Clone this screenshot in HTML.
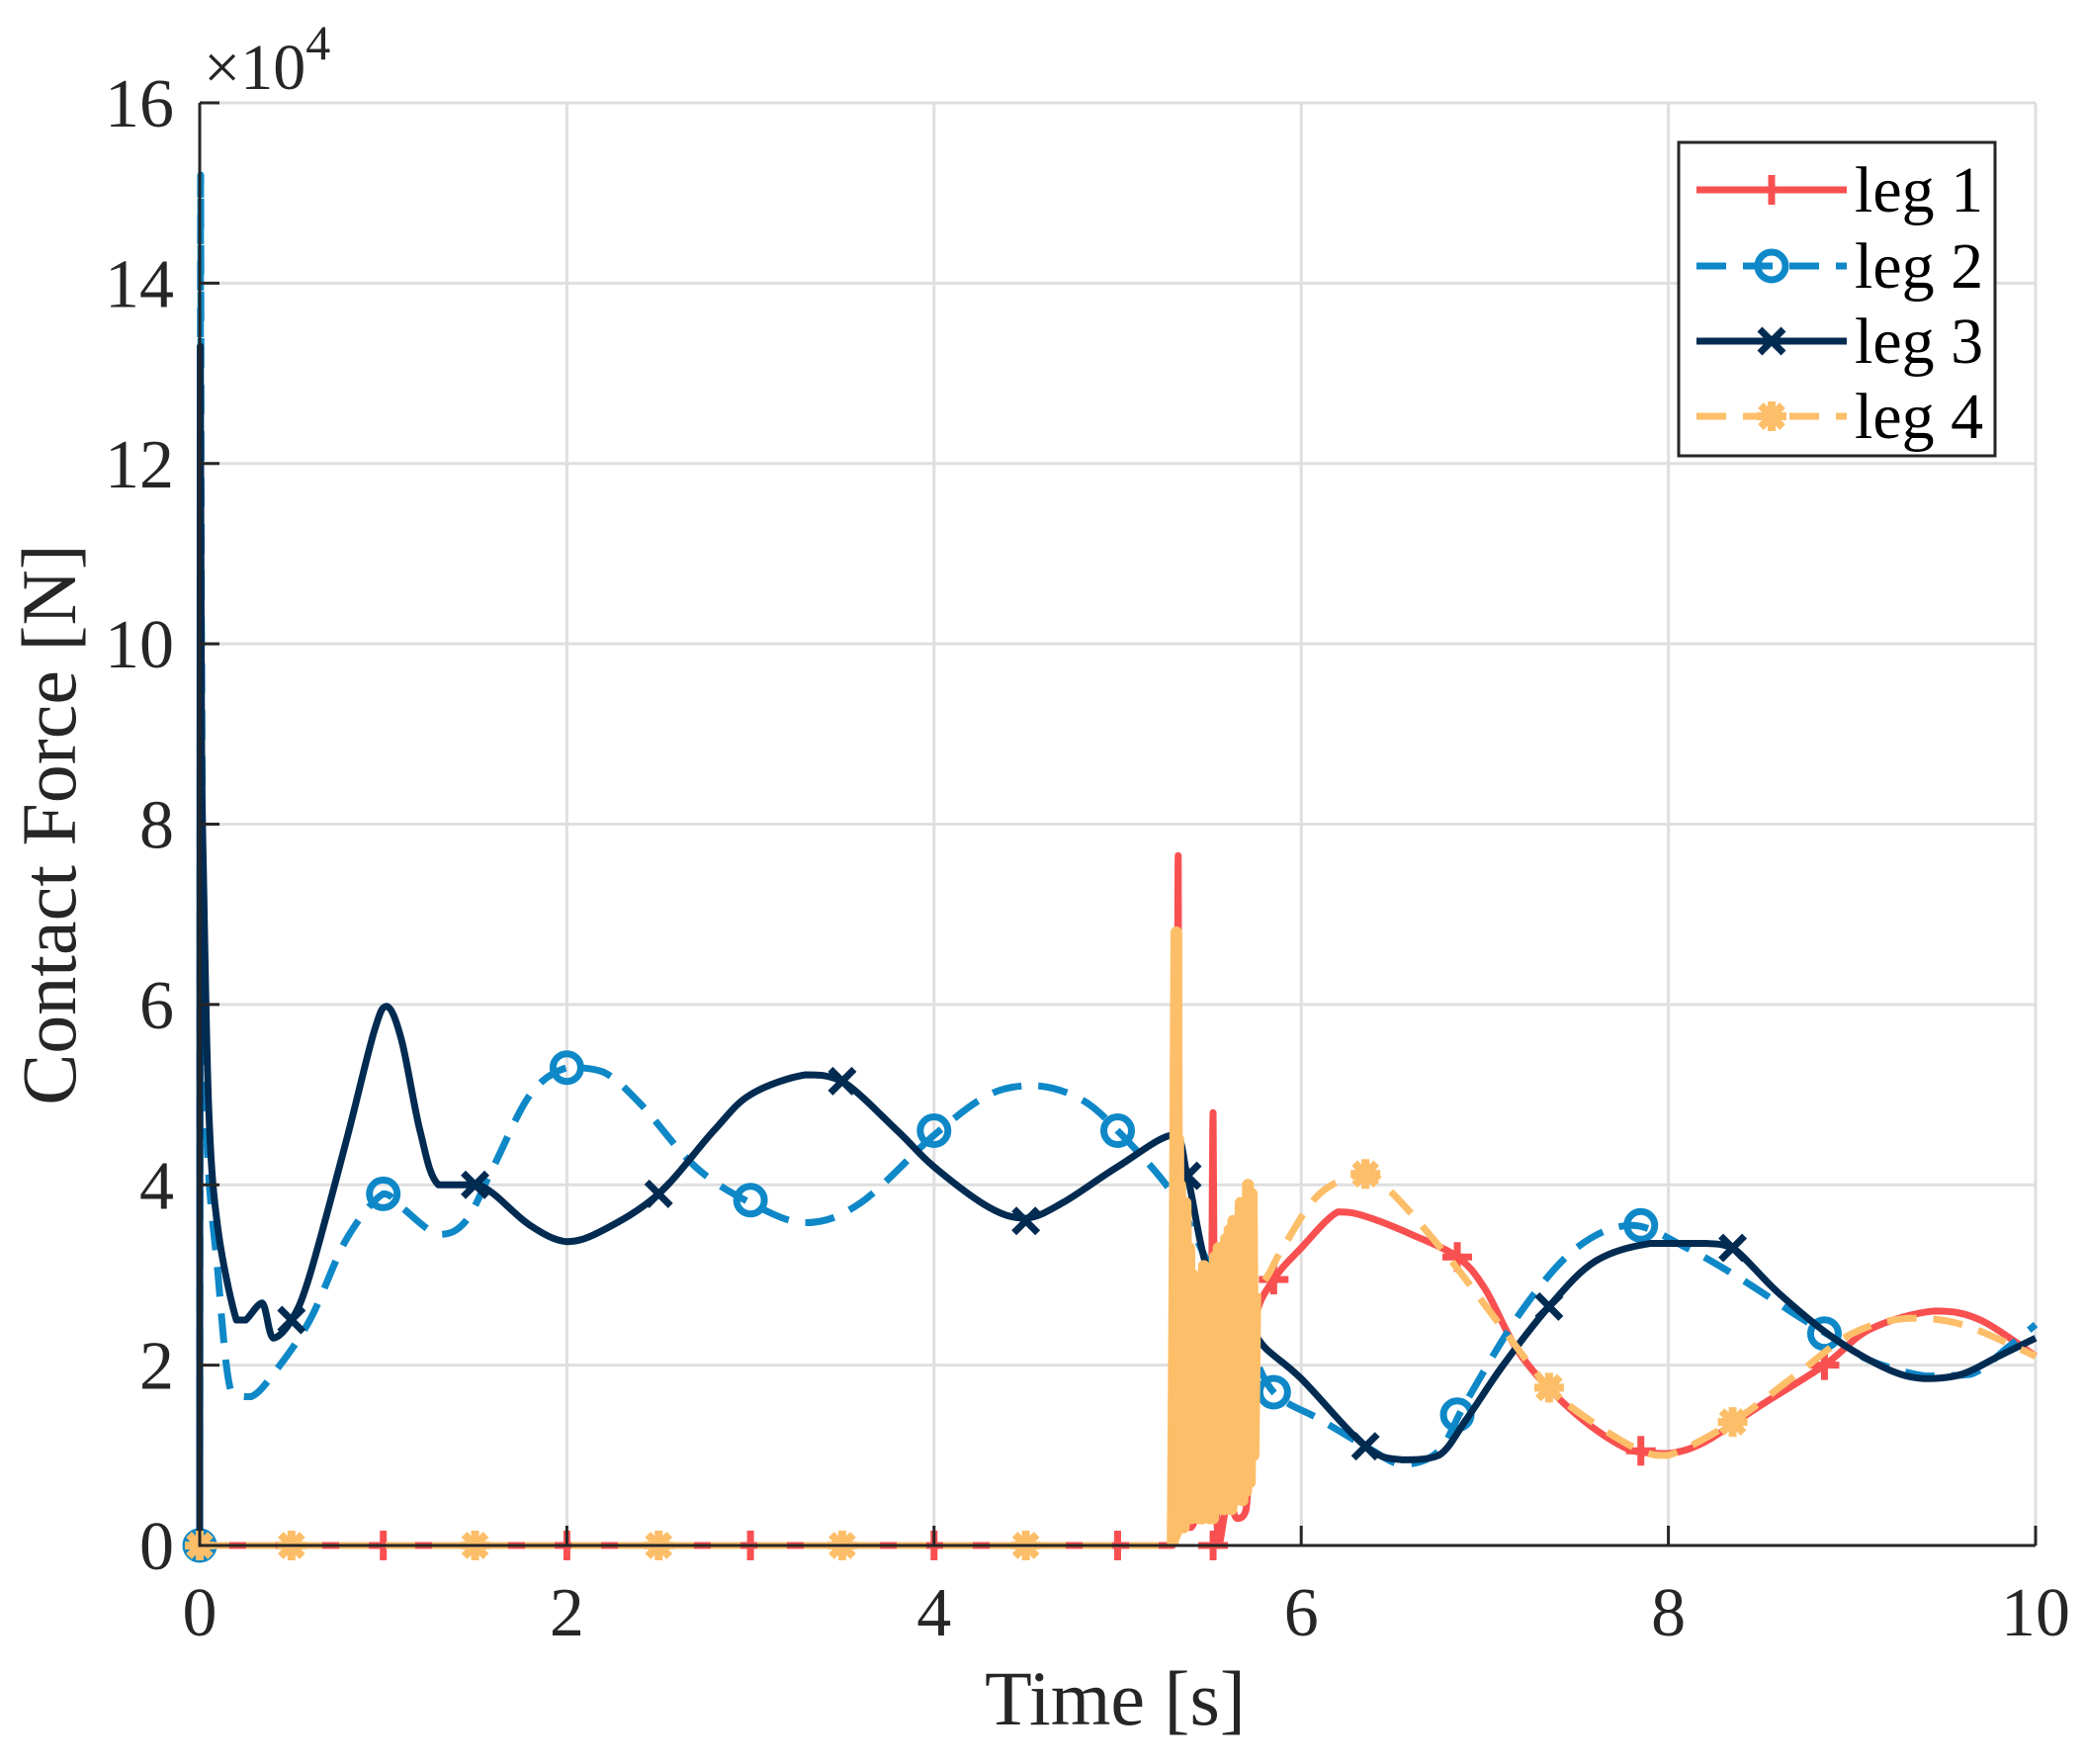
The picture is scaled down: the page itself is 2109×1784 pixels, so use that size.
<!DOCTYPE html>
<html><head><meta charset="utf-8"><style>
html,body{margin:0;padding:0;background:#fff;}
svg{display:block;font-family:"Liberation Serif",serif;}
</style></head><body>
<svg id="chart" width="2109" height="1784" viewBox="0 0 2109 1784" xmlns="http://www.w3.org/2000/svg">
<g id="grid"></g>
<g id="series"></g>
<g id="axes"></g>
<text x="206" y="90" font-size="66" fill="#262626">×10<tspan dy="-30" font-size="50">4</tspan></text>
<text x="1128" y="1744" font-size="78" text-anchor="middle" fill="#262626">Time [s]</text>
<text transform="translate(76,834) rotate(-90)" font-size="78" text-anchor="middle" fill="#262626">Contact Force [N]</text>
<g id="legend"></g>
</svg>
<script>
// ---- data ----
const xTicks=[0,2,4,6,8,10];
const yTicks=[0,2,4,6,8,10,12,14,16];
const xTickLabels=["0","2","4","6","8","10"];
const yTickLabels=["0","2","4","6","8","10","12","14","16"];
const seriesNames=["leg 1","leg 2","leg 3","leg 4"];

const leg1T=[0,1,2,3,4,5,5.3,5.32,5.33,5.34,5.36,5.4,5.45,5.5,5.51,5.52,5.53,5.55,5.6,5.65,5.7,5.73,5.75,5.85,6.0,6.2,6.35,6.6,6.85,7.0,7.2,7.5,7.8,8.0,8.2,8.5,8.85,9.1,9.45,9.7,10];
const leg1V=[0,0,0,0,0,0,0,2.0,7.65,1.0,0.3,0.2,0.4,0.3,2.0,4.8,1.5,0.0,0.5,0.3,0.4,1.5,2.5,2.95,3.3,3.7,3.65,3.45,3.2,2.85,2.1,1.45,1.05,1.02,1.15,1.55,2.0,2.4,2.6,2.5,2.1];
const leg1MarkT=[0,1,2,3,4,5,5.52,5.85,6.85,7.85,8.85];
const leg1MarkV=[0,0,0,0,0,0,0,2.95,3.2,1.05,2.0];

const leg2T=[0,0.005,0.01,0.03,0.1,0.17,0.28,0.4,0.6,0.8,1.0,1.1,1.3,1.45,1.6,1.8,2.0,2.2,2.4,2.7,3.0,3.3,3.6,4.0,4.3,4.55,4.8,5.0,5.3,5.5,5.7,5.85,6.1,6.35,6.55,6.75,6.9,7.2,7.5,7.8,8.1,8.4,8.7,8.9,9.1,9.4,9.65,9.85,10];
const leg2V=[0,15.2,10,5,3.0,1.71,1.65,1.9,2.5,3.4,3.9,3.75,3.45,3.6,4.2,5.0,5.3,5.25,4.9,4.2,3.8,3.58,3.8,4.55,5.0,5.1,4.95,4.6,3.9,3.1,2.3,1.7,1.4,1.1,0.9,1.05,1.6,2.6,3.3,3.55,3.3,2.95,2.55,2.3,2.05,1.88,1.9,2.2,2.45];
const leg2MarkT=[0,1,2,3,4,5,5.85,6.85,7.85,8.85];
const leg2MarkV=[0,3.9,5.3,3.83,4.6,4.6,1.7,1.45,3.55,2.35];

const leg3T=[0,0.003,0.01,0.02,0.05,0.1,0.2,0.25,0.34,0.4,0.5,0.6,0.8,0.95,1.02,1.1,1.2,1.3,1.5,1.6,1.8,2.0,2.2,2.5,2.8,3.0,3.3,3.5,3.8,4.0,4.3,4.5,4.7,5.0,5.3,5.38,5.5,5.7,5.8,6.0,6.35,6.55,6.75,6.9,7.1,7.35,7.6,7.9,8.2,8.35,8.6,8.9,9.2,9.4,9.6,9.8,10];
const leg3V=[0,13.3,9,7.5,4.8,3.5,2.5,2.5,2.69,2.3,2.5,3.0,4.5,5.7,5.98,5.6,4.6,4.0,4.0,3.9,3.55,3.37,3.5,3.9,4.6,5.0,5.22,5.15,4.6,4.2,3.75,3.63,3.8,4.2,4.55,4.1,3.0,2.5,2.2,1.85,1.1,0.95,1.0,1.4,2.0,2.65,3.15,3.35,3.35,3.3,2.8,2.3,1.95,1.85,1.9,2.1,2.3];
const leg3MarkT=[0.5,1.5,2.5,3.5,4.5,5.38,6.35,7.35,8.35];
const leg3MarkV=[2.5,4.0,3.9,5.15,3.6,4.1,1.1,2.65,3.3];

const leg4T=[0,1,2,3,4,5,5.3,5.75,5.82,5.9,6.1,6.35,6.5,6.8,7.1,7.35,7.6,7.85,8.0,8.35,8.7,9.0,9.3,9.6,10];
const leg4V=[0,0,0,0,0,0,0,2.8,3.0,3.3,3.9,4.12,3.9,3.2,2.4,1.75,1.35,1.05,1.0,1.37,1.9,2.35,2.52,2.45,2.1];
const leg4MarkT=[0,0.5,1.5,2.5,3.5,4.5,6.35,7.35,8.35];
const leg4MarkV=[0,0,0,0,0,0,4.12,1.75,1.37];
// burst (chattering) region of leg 4
const burstT=[5.3,5.31,5.32,5.325,5.33,5.335,5.34,5.345,5.35,5.36,5.37,5.38,5.39,5.40,5.41,5.42,5.43,5.44,5.45,5.46,5.47,5.48,5.49,5.50,5.51,5.52,5.53,5.54,5.55,5.56,5.57,5.58,5.59,5.60,5.61,5.62,5.63,5.64,5.65,5.66,5.67,5.68,5.69,5.70,5.71,5.72,5.73,5.74,5.75];
const burstV=[0,3.0,6.8,0.3,4.5,0.4,4.0,0.3,3.5,0.2,3.8,0.4,3.3,0.3,3.0,0.4,2.9,0.3,2.8,0.3,3.1,0.4,2.9,0.3,3.0,0.3,3.2,0.4,3.3,0.5,3.1,0.4,3.4,0.5,3.5,0.4,3.6,0.5,3.4,0.6,3.8,0.5,3.7,0.6,4.0,0.7,3.9,1.0,2.8];

// ---- geometry ----
const X0=202,X1=2059,Y0=1563,Y1=104;
const xs=t=>X0+(t-0)/(10-0)*(X1-X0);
const ys=v=>Y0-(v-0)/(16-0)*(Y0-Y1);
const NS="http://www.w3.org/2000/svg";
function mk(tag,parent){const e=document.createElementNS(NS,tag);parent.appendChild(e);return e;}
const grid=document.getElementById('grid'),axes=document.getElementById('axes'),ser=document.getElementById('series'),leg=document.getElementById('legend');

xTicks.forEach((t,i)=>{
  const l=mk('line',grid);
  
  
  l.setAttribute('x1',xs(t));l.setAttribute('x2',xs(t));l.setAttribute('y1',Y1);l.setAttribute('y2',Y0);
  l.setAttribute('stroke','#dfdfdf');l.setAttribute('stroke-width','3');
  const tk=mk('line',axes);
  
  
  tk.setAttribute('x1',xs(t));tk.setAttribute('x2',xs(t));tk.setAttribute('y1',Y0);tk.setAttribute('y2',Y0-20);
  tk.setAttribute('stroke','#262626');tk.setAttribute('stroke-width','3');
  const tx=mk('text',axes);
  
  
  tx.setAttribute('x',xs(t));tx.setAttribute('y',1654);tx.setAttribute('font-size','70');
  tx.setAttribute('text-anchor','middle');tx.setAttribute('fill','#262626');tx.textContent=xTickLabels[i];
});
yTicks.forEach((v,i)=>{
  const l=mk('line',grid);
  
  
  l.setAttribute('x1',X0);l.setAttribute('x2',X1);l.setAttribute('y1',ys(v));l.setAttribute('y2',ys(v));
  l.setAttribute('stroke','#dfdfdf');l.setAttribute('stroke-width','3');
  const tk=mk('line',axes);
  
  
  tk.setAttribute('x1',X0);tk.setAttribute('x2',X0+20);tk.setAttribute('y1',ys(v));tk.setAttribute('y2',ys(v));
  tk.setAttribute('stroke','#262626');tk.setAttribute('stroke-width','3');
  const tx=mk('text',axes);
  
  
  tx.setAttribute('x',176);tx.setAttribute('y',ys(v)+24);tx.setAttribute('font-size','70');
  tx.setAttribute('text-anchor','end');tx.setAttribute('fill','#262626');tx.textContent=yTickLabels[i];
});
const ax=mk('path',axes);


ax.setAttribute('d',`M${X0},${Y1}V${Y0}H${X1}`);ax.setAttribute('fill','none');ax.setAttribute('stroke','#262626');ax.setAttribute('stroke-width','3');

function clamp(v,a,b){const lo=Math.min(a,b),hi=Math.max(a,b);return Math.min(Math.max(v,lo),hi);}
function pathD(T,V,smooth){
  const p=T.map((t,i)=>[xs(t),ys(V[i])]);
  let d=`M${p[0][0]},${p[0][1]}`;
  for(let i=1;i<p.length;i++){
    if(!smooth){d+=`L${p[i][0]},${p[i][1]}`;continue;}
    const a=p[Math.max(0,i-2)],b=p[i-1],c=p[i],e=p[Math.min(p.length-1,i+1)];
    const c1=[b[0]+(c[0]-a[0])/6,b[1]+(c[1]-a[1])/6],c2=[c[0]-(e[0]-b[0])/6,c[1]-(e[1]-b[1])/6];
    c1[0]=clamp(c1[0],b[0],c[0]);c2[0]=clamp(c2[0],b[0],c[0]);
    c1[1]=clamp(c1[1],b[1],c[1]);c2[1]=clamp(c2[1],b[1],c[1]);
    d+=`C${c1[0]},${c1[1]} ${c2[0]},${c2[1]} ${c[0]},${c[1]}`;
  }
  return d;
}
function marker(g,type,x,y,color){
  const s=15;
  if(type==='plus'){
    const p=mk('path',g);
    
    
    p.setAttribute('d',`M${x-s},${y}H${x+s}M${x},${y-s}V${y+s}`);p.setAttribute('stroke',color);p.setAttribute('stroke-width','7');
  }else if(type==='circle'){
    const c=mk('circle',g);
    
    
    c.setAttribute('cx',x);c.setAttribute('cy',y);c.setAttribute('r',14);c.setAttribute('fill','none');c.setAttribute('stroke',color);c.setAttribute('stroke-width','7');
  }else if(type==='x'){
    const p=mk('path',g);
    
    
    const k=12;p.setAttribute('d',`M${x-k},${y-k}L${x+k},${y+k}M${x-k},${y+k}L${x+k},${y-k}`);p.setAttribute('stroke',color);p.setAttribute('stroke-width','7');
  }else{
    const p=mk('path',g);
    
    
    const k=11;p.setAttribute('d',`M${x-s},${y}H${x+s}M${x},${y-s}V${y+s}M${x-k},${y-k}L${x+k},${y+k}M${x-k},${y+k}L${x+k},${y-k}`);p.setAttribute('stroke',color);p.setAttribute('stroke-width','8');
  }
}
const series=[
 {name:'leg-1',T:leg1T,V:leg1V,MT:leg1MarkT,MV:leg1MarkV,color:'#f85050',dash:null,m:'plus'},
 {name:'leg-2',T:leg2T,V:leg2V,MT:leg2MarkT,MV:leg2MarkV,color:'#0f88c8',dash:'30 17',m:'circle'},
 {name:'leg-3',T:leg3T,V:leg3V,MT:leg3MarkT,MV:leg3MarkV,color:'#022b52',dash:null,m:'x'},
 {name:'leg-4',T:leg4T,V:leg4V,MT:leg4MarkT,MV:leg4MarkV,color:'#fdbe69',dash:'30 17',m:'star'}
];
series.forEach(s=>{
  const g=mk('g',ser);
  
  
  const p=mk('path',g);
  
  
  p.setAttribute('d',pathD(s.T,s.V,true));p.setAttribute('fill','none');p.setAttribute('stroke',s.color);p.setAttribute('stroke-width','7');
  p.setAttribute('stroke-linejoin','round');
  if(s.dash)p.setAttribute('stroke-dasharray',s.dash);
  if(s.name==='leg-4'){
    const b=mk('path',g);
    
    
    b.setAttribute('d',pathD(burstT,burstV,false));b.setAttribute('fill','#fdbe69');b.setAttribute('stroke',s.color);b.setAttribute('stroke-width','12');
    b.setAttribute('stroke-linejoin','round');
  }
  s.MT.forEach((t,i)=>marker(g,s.m,xs(t),ys(s.MV[i]),s.color));
});

// legend
const box=mk('rect',leg);


box.setAttribute('x',1698);box.setAttribute('y',144);box.setAttribute('width',320);box.setAttribute('height',317);
box.setAttribute('fill','#fff');box.setAttribute('stroke','#262626');box.setAttribute('stroke-width','3');
const legY=[192,269,345,421];
series.forEach((s,i)=>{
  const g=mk('g',leg);
  
  
  const l=mk('line',g);
  
  
  l.setAttribute('x1',1716);l.setAttribute('x2',1868);l.setAttribute('y1',legY[i]);l.setAttribute('y2',legY[i]);
  l.setAttribute('stroke',s.color);l.setAttribute('stroke-width','7');
  if(s.dash)l.setAttribute('stroke-dasharray','30 17');
  marker(g,s.m,1792,legY[i],s.color);
  const tx=mk('text',g);
  
  
  tx.setAttribute('x',1876);tx.setAttribute('y',legY[i]+22);tx.setAttribute('font-size','66');tx.setAttribute('fill','#000');
  tx.textContent=seriesNames[i];
});
</script>
</body></html>
